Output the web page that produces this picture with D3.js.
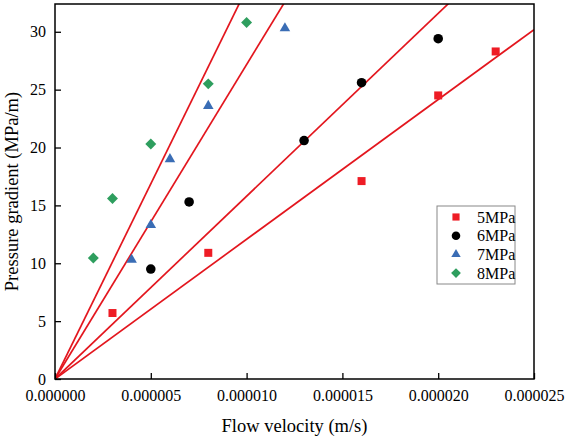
<!DOCTYPE html>
<html>
<head>
<meta charset="utf-8">
<script src="https://cdn.jsdelivr.net/npm/d3@7.9.0/dist/d3.min.js"></script>
<style>
  body { margin: 0; background: #fff; }
  svg text { font-family: "Liberation Serif", "Times New Roman", serif; fill: #000; }
</style>
</head>
<body>
<svg id="chart" width="569" height="437"></svg>
<script>
// readings (velocity in m/s, gradient in MPa/m)
const seriesNames = ['5MPa', '6MPa', '7MPa', '8MPa'];
const velocity5 = [3e-6, 8e-6, 16e-6, 20e-6, 23e-6];
const gradient5 = [5.7, 10.9, 17.1, 24.5, 28.3];
const velocity6 = [5e-6, 7e-6, 13e-6, 16e-6, 20e-6];
const gradient6 = [9.5, 15.3, 20.6, 25.6, 29.4];
const velocity7 = [4e-6, 5e-6, 6e-6, 8e-6, 12e-6];
const gradient7 = [10.3, 13.3, 19.0, 23.6, 30.3];
const velocity8 = [2e-6, 3e-6, 5e-6, 8e-6, 10e-6];
const gradient8 = [10.45, 15.6, 20.3, 25.5, 30.8];
const xTicks = [0, 5e-6, 10e-6, 15e-6, 20e-6, 25e-6];
const yTicks = [0, 5, 10, 15, 20, 25, 30];

const colors = ['#ee1c25', '#000000', '#3a6db5', '#2e9e5e'];
const symbols = [d3.symbolSquare, d3.symbolCircle, d3.symbolTriangle, d3.symbolSquare];
const sizes = [64, 72, 48, 60];
const rotations = [0, 0, 0, 45];
const serif = '"Liberation Serif", "Times New Roman", serif';

const series = seriesNames.map((name, i) => {
  const xs = [velocity5, velocity6, velocity7, velocity8][i];
  const ys = [gradient5, gradient6, gradient7, gradient8][i];
  return { name, points: xs.map((x, j) => ({ x, y: ys[j] })) };
});

const margin = { top: 4, right: 35, bottom: 58, left: 55 };
const width = 569 - margin.left - margin.right;
const height = 437 - margin.top - margin.bottom;

const x = d3.scaleLinear().domain([0, 25e-6]).range([0, width]);
const y = d3.scaleLinear().domain([0, 32.4]).range([height, 0]);

const svg = d3.select('#chart');
const g = svg.append('g').attr('transform', `translate(${margin.left},${margin.top})`);

g.append('clipPath').attr('id', 'plotclip')
  .append('rect').attr('width', width).attr('height', height);

// fitted lines through the origin (least squares, slope = sum(xy)/sum(x^2))
const lineGen = d3.line().x(d => x(d[0])).y(d => y(d[1]));
series.forEach(s => {
  const slope = d3.sum(s.points, p => p.x * p.y) / d3.sum(s.points, p => p.x * p.x);
  const xEnd = 25e-6;
  g.append('path')
    .attr('clip-path', 'url(#plotclip)')
    .attr('d', lineGen([[0, 0], [xEnd, slope * xEnd]]))
    .attr('fill', 'none')
    .attr('stroke', '#e3161e')
    .attr('stroke-width', 1.7);
});

// points
series.forEach((s, i) => {
  g.append('g').selectAll('path')
    .data(s.points)
    .join('path')
    .attr('d', d3.symbol(symbols[i], sizes[i]))
    .attr('transform', d => `translate(${x(d.x)},${y(d.y)}) rotate(${rotations[i]})`)
    .attr('fill', colors[i]);
});

// axes
const xAxis = d3.axisBottom(x).tickValues(xTicks).tickSize(-6).tickPadding(11)
  .tickFormat(d => d.toFixed(6));
const yAxis = d3.axisLeft(y).tickValues(yTicks).tickSize(-6).tickPadding(9)
  .tickFormat(d3.format('d'));

const gx = g.append('g').attr('transform', `translate(0,${height})`).call(xAxis);
const gy = g.append('g').call(yAxis);
[gx, gy].forEach(a => {
  a.attr('font-family', serif).attr('font-size', 16);
  a.select('.domain').remove();
  a.selectAll('line').attr('stroke', '#000').attr('stroke-width', 1.3);
  a.selectAll('text').style('font-family', serif).style('font-size', '16px').attr('fill', '#000');
});

// frame
g.append('rect')
  .attr('width', width).attr('height', height)
  .attr('fill', 'none').attr('stroke', '#000').attr('stroke-width', 1.5);

// axis titles
svg.append('text')
  .attr('x', margin.left + width / 2).attr('y', 432)
  .attr('text-anchor', 'middle').style('font-size', '18.5px')
  .text('Flow velocity (m/s)');
svg.append('text')
  .attr('transform', `translate(18,${margin.top + height / 2}) rotate(-90)`)
  .attr('text-anchor', 'middle').style('font-size', '18.5px')
  .text('Pressure gradient (MPa/m)');

// legend
const legend = svg.append('g').attr('transform', 'translate(437,206)');
legend.append('rect')
  .attr('width', 78).attr('height', 78)
  .attr('fill', '#fff').attr('stroke', '#888').attr('stroke-width', 1);
seriesNames.forEach((name, i) => {
  const ly = 11 + i * 18.7;
  legend.append('path')
    .attr('d', d3.symbol(symbols[i], sizes[i] * 0.8))
    .attr('transform', `translate(19,${ly}) rotate(${rotations[i]})`)
    .attr('fill', colors[i]);
  legend.append('text')
    .attr('x', 40).attr('y', ly).attr('dy', '0.35em')
    .style('font-size', '16px')
    .text(name);
});
</script>
</body>
</html>
